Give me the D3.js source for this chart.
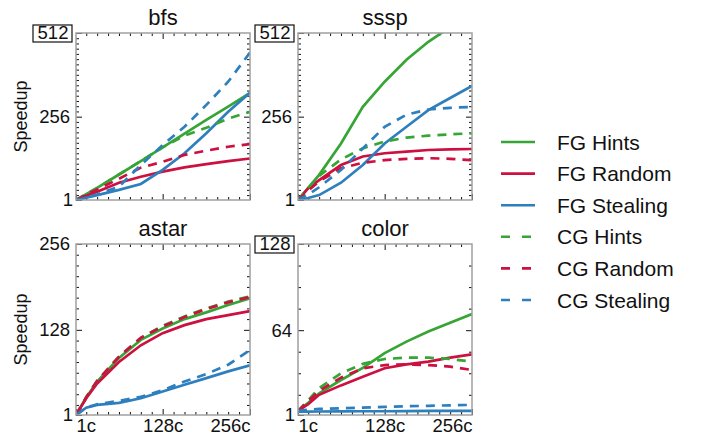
<!DOCTYPE html>
<html lang="en">
<head>
<meta charset="UTF-8">
<title>Speedup</title>
<script src="https://d3js.org/d3.v7.min.js"></script>
<style>
    body { margin: 0; background: #fff; }
    svg { display: block; font-family: "Liberation Sans", Arial, sans-serif; }
    .frame { fill: none; stroke: #a0a0a0; stroke-width: 1.5px; }
    .tick line { stroke: #111; }
    .domain { display: none; }
    .tick text { font-size: 18.5px; fill: #111; }
    .title { font-size: 22px; fill: #111; text-anchor: middle; }
    .ylab { font-size: 18px; fill: #111; text-anchor: middle; }
    .legend text { font-size: 21px; fill: #111; dominant-baseline: central; }
</style>
</head>
<body>
<svg id="chart" width="701" height="438"></svg>
<script>
// cores on the x axis
const cores = [1, 16, 32, 64, 96, 128, 160, 192, 224, 256];

const benchmarks = ["bfs", "sssp", "astar", "color"];
const yMax = [512, 512, 256, 128];
const yMid = [256, 256, 128, 64];
const boxedTop = [true, true, false, true];

const seriesNames = ["FG Hints", "FG Random", "FG Stealing", "CG Hints", "CG Random", "CG Stealing"];

// speedup values, one array per series per benchmark (same order as seriesNames)
const bfs = [
    [1, 19, 38, 79, 120, 162, 204, 246, 287, 329],
    [1, 14, 26, 54, 72, 88, 101, 111, 120, 128],
    [1, 8, 16, 32, 50, 93, 144, 205, 271, 329],
    [1, 19, 38, 79, 120, 162, 198, 222, 250, 271],
    [1, 17, 33, 66, 100, 118, 139, 152, 164, 172],
    [1, 8, 18, 42, 108, 169, 225, 292, 363, 452]
];
const sssp = [
    [1, 38, 78, 174, 286, 363, 430, 485, 530, 575],
    [1, 37, 62, 108, 134, 144, 149, 154, 156, 157],
    [1, 7, 16, 54, 108, 174, 225, 276, 313, 350],
    [1, 38, 75, 125, 159, 180, 192, 198, 202, 205],
    [1, 30, 58, 98, 115, 123, 127, 129, 127, 123],
    [1, 18, 40, 93, 159, 225, 262, 278, 283, 286]
];
const astar = [
    [1, 27, 51, 86, 113, 130, 144, 154, 165, 175],
    [1, 26, 48, 80, 105, 123, 135, 144, 150, 156],
    [1, 12, 16, 19, 26, 36, 46, 56, 66, 75],
    [1, 28, 52, 88, 116, 134, 148, 160, 170, 178],
    [1, 27, 52, 88, 116, 133, 147, 159, 169, 177],
    [1, 12, 17, 22, 28, 38, 51, 62, 76, 98]
];
const color = [
    [4, 10, 17, 27, 36, 47, 55.5, 63, 69.6, 76],
    [4, 9, 16, 23, 29.4, 35.7, 38.6, 40.6, 43.6, 46],
    [3.5, 3.5, 3.6, 3.7, 3.8, 3.8, 3.9, 4, 4, 4],
    [4, 12, 21, 32, 39, 42.6, 43.6, 43.6, 42.6, 40.6],
    [4, 11, 19, 28.7, 35.7, 38.1, 38.6, 38.1, 36.9, 34.4],
    [4, 5, 5.5, 6, 6.5, 7, 7.5, 7.8, 8.2, 8.5]
];
const allData = [bfs, sssp, astar, color];

const colors = ["#36a535", "#cc1040", "#2d7fbd", "#36a535", "#cc1040", "#2d7fbd"];
const dashed = [false, false, false, true, true, true];

const svg = d3.select("#chart");

// panel boxes
const px = [76, 298, 76, 298];
const py = [33, 33, 244, 244];
const pw = 174;
const ph = [167, 167, 171, 171];

benchmarks.forEach((name, i) => {
    const x0 = px[i], y0 = py[i], h = ph[i];
    const x = d3.scaleLinear().domain([1, 256]).range([x0, x0 + pw]);
    const y = d3.scaleLinear().domain([1, yMax[i]]).range([y0 + h, y0]);
    const minorX = d3.range(16, 256, 16).filter(v => v !== 128);
    const minorY = d3.range(16, yMax[i], 16).filter(v => v !== yMid[i]);

    const g = svg.append("g");

    g.append("clipPath").attr("id", "clip" + i)
        .append("rect").attr("x", x0).attr("y", y0).attr("width", pw).attr("height", h);

    // minor ticks on all four sides, pointing inward
    g.append("g").attr("transform", `translate(${x0},0)`)
        .call(d3.axisLeft(y).tickValues(minorY).tickSize(-3).tickFormat(""));
    g.append("g").attr("transform", `translate(${x0 + pw},0)`)
        .call(d3.axisRight(y).tickValues(minorY).tickSize(-3).tickFormat(""));
    g.append("g").attr("transform", `translate(0,${y0})`)
        .call(d3.axisTop(x).tickValues(minorX).tickSize(-3).tickFormat(""));
    g.append("g").attr("transform", `translate(0,${y0 + h})`)
        .call(d3.axisBottom(x).tickValues(minorX).tickSize(-3).tickFormat(""));

    // major ticks with labels
    const left = g.append("g").attr("transform", `translate(${x0},0)`)
        .call(d3.axisLeft(y).tickValues([1, yMid[i], yMax[i]]).tickSize(-6).tickPadding(5));
    left.selectAll(".tick text").attr("x", d => d === 1 ? -3 : -6);
    g.append("g").attr("transform", `translate(${x0 + pw},0)`)
        .call(d3.axisRight(y).tickValues([yMid[i]]).tickSize(-6).tickFormat(""));
    g.append("g").attr("transform", `translate(0,${y0})`)
        .call(d3.axisTop(x).tickValues([128]).tickSize(-6).tickFormat(""));
    const bottom = g.append("g").attr("transform", `translate(0,${y0 + h})`)
        .call(d3.axisBottom(x).tickValues([1, 128, 256]).tickSize(-6).tickPadding(5)
            .tickFormat(d => d + "c"));
    if (i < 2) {
        bottom.selectAll(".tick text").remove();
    } else {
        bottom.selectAll(".tick text")
            .attr("text-anchor", d => d === 1 ? "start" : d === 256 ? "end" : "middle")
            .attr("y", 4);
    }

    // boxed top label
    if (boxedTop[i]) {
        const t = left.selectAll(".tick").filter(d => d === yMax[i]).select("text");
        t.attr("x", -23).attr("text-anchor", "middle");
        left.selectAll(".tick").filter(d => d === yMax[i])
            .insert("rect", "text")
            .attr("x", -43).attr("y", -8.5).attr("width", 39).attr("height", 17)
            .attr("fill", "#fff").attr("stroke", "#111").attr("stroke-width", 1.2);
    }

    // lines
    const line = d3.line().x((d, k) => x(cores[k])).y(d => y(d));
    const lines = g.append("g").attr("clip-path", `url(#clip${i})`);
    allData[i].forEach((vals, s) => {
        lines.append("path")
            .datum(vals)
            .attr("d", line)
            .attr("fill", "none")
            .attr("stroke", colors[s])
            .attr("stroke-width", 2.7)
            .attr("stroke-dasharray", dashed[s] ? "9,7" : null);
    });

    g.append("rect").attr("class", "frame")
        .attr("x", x0).attr("y", y0).attr("width", pw).attr("height", h);

    g.append("text").attr("class", "title")
        .attr("x", x0 + pw / 2).attr("y", y0 - 8).text(name);

    if (i % 2 === 0) {
        g.append("text").attr("class", "ylab")
            .attr("transform", `translate(27,${y0 + h / 2}) rotate(-90)`)
            .text("Speedup");
    }
});

// legend
const legend = svg.append("g").attr("class", "legend");
seriesNames.forEach((name, s) => {
    const ly = 142 + s * 31.6;
    legend.append("line")
        .attr("x1", 501).attr("x2", dashed[s] ? 531 : 535)
        .attr("y1", ly).attr("y2", ly)
        .attr("stroke", colors[s])
        .attr("stroke-width", 2.6)
        .attr("stroke-dasharray", dashed[s] ? "9,12" : null);
    legend.append("text").attr("x", 557).attr("y", ly).text(name);
});
</script>
</body>
</html>
